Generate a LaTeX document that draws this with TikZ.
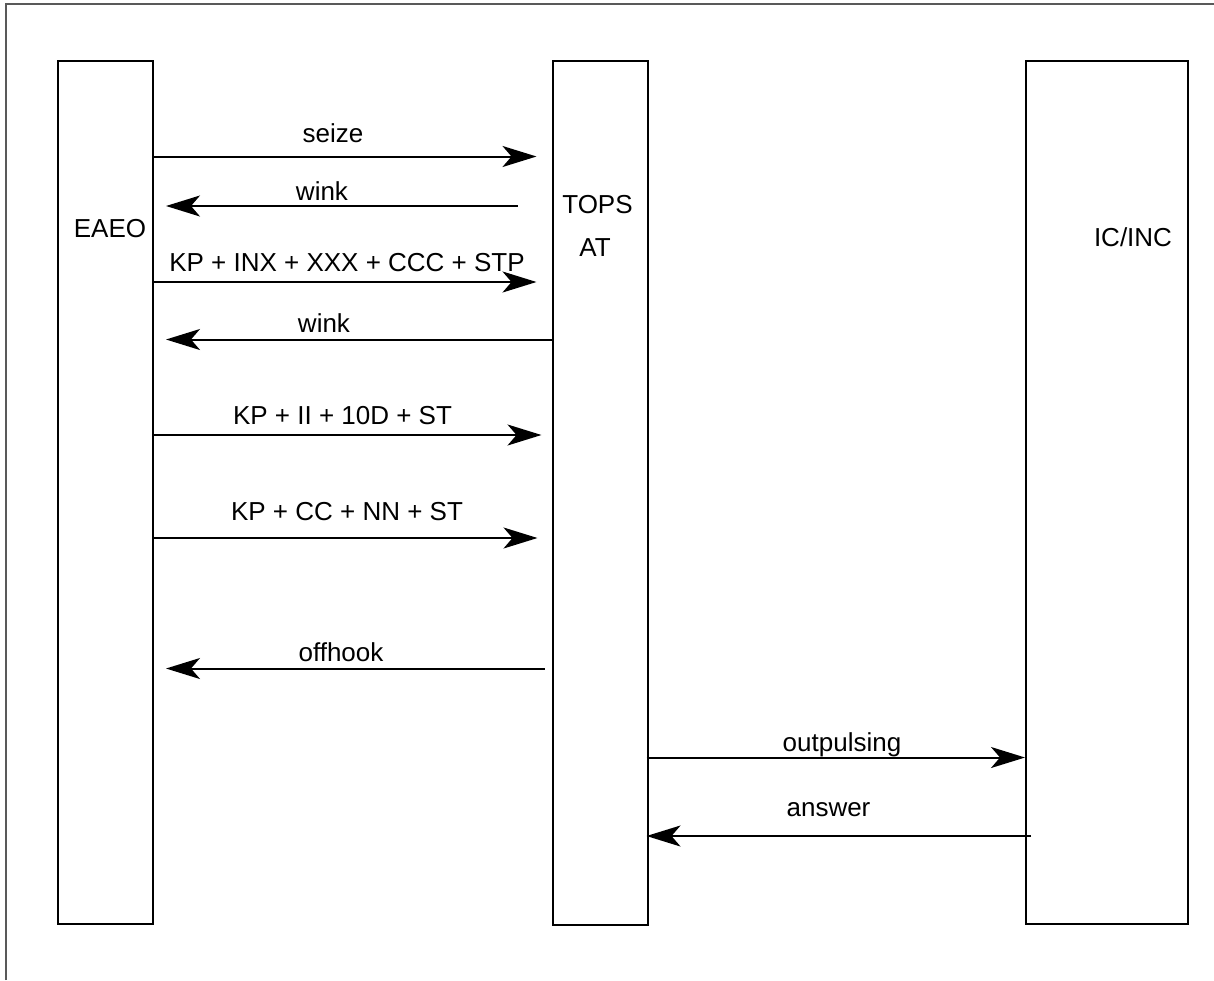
\documentclass[tikz,border=0pt]{standalone}
\usepackage{fontspec}
\setmainfont{Liberation Sans}
\usetikzlibrary{arrows.meta}
\begin{document}
\begin{tikzpicture}[x=1pt,y=-1pt,
  box/.style={draw=black, line width=2pt, minimum width=95pt, inner sep=0pt},
  msg/.style={draw=black, line width=2pt, -{Stealth[length=34pt,width=21pt,inset=9pt]}},
  lbl/.style={anchor=base, inner sep=0pt, font=\fontsize{26}{31}\selectfont},
  frame/.style={draw=black!65, line width=1.5pt}]
\useasboundingbox (0,0) rectangle (1214,980);
\draw[frame] (6,980) -- (6,4) -- (1214,4);
% lifeline boxes
\node[box, minimum height=863pt] (eaeo) at (105.5,492.5) {};
\node[box, minimum height=864pt] (tops) at (600,493) {};
\node[box, minimum width=162pt, minimum height=863pt] (icinc) at (1107,492.5) {};
% box labels
\node[lbl] (teaeo) at (110,237) {EAEO};
\node[lbl] (ttops) at (597.5,213) {TOPS};
\node[lbl] (tat) at (595,256) {AT};
\node[lbl] (ticinc) at (1133,246) {IC/INC};
% messages
\draw[msg, shorten >=15pt] (eaeo.east |- 0,156.5) -- (tops.west |- 0,156.5);
\node[lbl] (l1) at (333,142) {seize};
\draw[msg, shorten <=34pt, shorten >=12pt] (tops.west |- 0,206) -- (eaeo.east |- 0,206);
\node[lbl] (l2) at (322,200) {wink};
\draw[msg, shorten >=15pt] (eaeo.east |- 0,282) -- (tops.west |- 0,282);
\node[lbl] (l3) at (347,271) {KP + INX + XXX + CCC + STP};
\draw[msg, shorten >=12pt] (tops.west |- 0,339.5) -- (eaeo.east |- 0,339.5);
\node[lbl] (l4) at (324,332.5) {wink};
\draw[msg, shorten >=10pt] (eaeo.east |- 0,435) -- (tops.west |- 0,435);
\node[lbl] (l5) at (342.5,424) {KP + II + 10D + ST};
\draw[msg, shorten >=14pt] (eaeo.east |- 0,538) -- (tops.west |- 0,538);
\node[lbl] (l6) at (347,520) {KP + CC + NN + ST};
\draw[msg, shorten <=7pt, shorten >=12pt] (tops.west |- 0,668.5) -- (eaeo.east |- 0,668.5);
\node[lbl] (l7) at (341,661.5) {offhook};
\draw[msg, shorten <=-2pt] (tops.east |- 0,757.5) -- (icinc.west |- 0,757.5);
\node[lbl] (l8) at (842,751) {outpulsing};
\draw[msg, shorten <=-6pt, shorten >=-2pt] (icinc.west |- 0,836) -- (tops.east |- 0,836);
\node[lbl] (l9) at (828.5,816.5) {answer};
\end{tikzpicture}
\end{document}
